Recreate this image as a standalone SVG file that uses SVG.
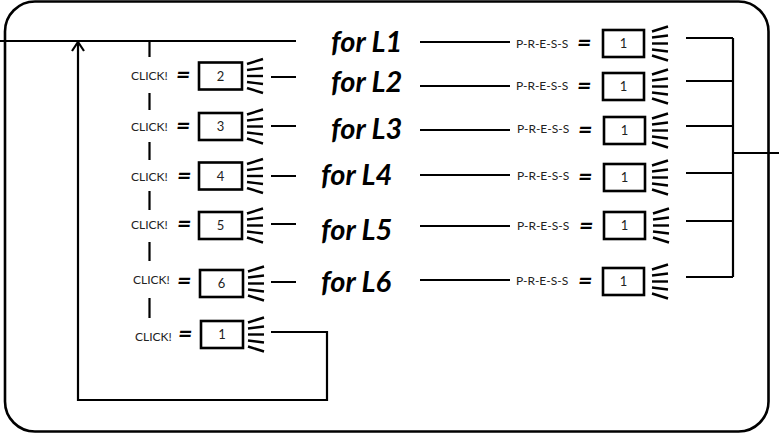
<svg xmlns="http://www.w3.org/2000/svg" width="779" height="438" viewBox="0 0 779 438">
<style>
.ln{stroke:#000;stroke-width:2.2;fill:none}
.bx{stroke:#000;stroke-width:2.6;fill:#fff}
.ray{stroke:#000;stroke-width:2.4;fill:none}
.for{font-family:Lato,"Open Sans",sans-serif;font-weight:bold;font-style:italic;font-size:29px;fill:#000}
.sm{font-family:Lato,"Open Sans",sans-serif;font-size:12px;fill:#222}
.num{font-family:Lato,"Open Sans",sans-serif;font-size:13px;fill:#222;text-anchor:middle}
.eq{font-family:Lato,"Open Sans",sans-serif;font-weight:bold;font-style:italic;font-size:25px;fill:#000}
</style>
<defs>
<g id="rays" class="ray">
<line x1="0" y1="-12" x2="16" y2="-17"/>
<line x1="0" y1="-6" x2="16" y2="-8"/>
<line x1="0" y1="0" x2="16" y2="0"/>
<line x1="0" y1="6" x2="16" y2="8"/>
<line x1="0" y1="12" x2="16" y2="17"/>
</g>
</defs>
<rect id="frame" x="5" y="1.5" width="763.5" height="430" rx="30" ry="30" fill="none" stroke="#000" stroke-width="2.6"/>

<g id="connectors" class="ln">
<path d="M0 41 H296"/>
<path d="M78 42 V400 H327 V332 H271"/>
<path d="M72 51 L78 42 L84 51"/>
<path d="M149.5 41 V57 M149.5 93 V110 M149.5 142 V160 M149.5 191 V210 M149.5 242 V261 M149.5 298 V318"/>
<path d="M271 77 H296 M271 126 H296 M271 176 H296 M271 224 H296 M271 282 H296"/>
<path d="M420 42 H510 M420 86 H510 M420 130 H510 M420 175 H510 M420 226 H510 M420 280 H510"/>
<path d="M686 38 H733 M686 81 H733 M686 126 H733 M686 173 H733 M686 221 H733 M686 277 H733 M733 38 V277 M733 153 H779"/>
</g>

<g id="labels">
<text class="for" x="331" y="52">for L1</text>
<text class="for" x="331" y="92">for L2</text>
<text class="for" x="331" y="139">for L3</text>
<text class="for" x="321" y="185">for L4</text>
<text class="for" x="321" y="240">for L5</text>
<text class="for" x="321" y="292">for L6</text>
</g>

<g id="click2"><text class="sm" x="131" y="79.5">CLICK!</text><text class="eq" x="176" y="83">=</text><rect class="bx" x="199" y="62.5" width="43" height="27"/><text class="num" x="220.5" y="80.5">2</text><use href="#rays" x="247" y="76"/></g>
<g id="click3"><text class="sm" x="131" y="130.5">CLICK!</text><text class="eq" x="176" y="134">=</text><rect class="bx" x="199" y="113" width="43" height="27"/><text class="num" x="220.5" y="131">3</text><use href="#rays" x="247" y="126.5"/></g>
<g id="click4"><text class="sm" x="131" y="180.5">CLICK!</text><text class="eq" x="177" y="184">=</text><rect class="bx" x="199" y="162.5" width="43" height="27"/><text class="num" x="220.5" y="180.5">4</text><use href="#rays" x="247" y="176"/></g>
<g id="click5"><text class="sm" x="131" y="228.5">CLICK!</text><text class="eq" x="177" y="232">=</text><rect class="bx" x="199" y="212" width="43" height="27"/><text class="num" x="220.5" y="230">5</text><use href="#rays" x="247" y="225.5"/></g>
<g id="click6"><text class="sm" x="133" y="283.5">CLICK!</text><text class="eq" x="177" y="289">=</text><rect class="bx" x="200" y="270" width="43" height="27"/><text class="num" x="221.5" y="288">6</text><use href="#rays" x="248" y="283.5"/></g>
<g id="click1"><text class="sm" x="135" y="340.5">CLICK!</text><text class="eq" x="178" y="342">=</text><rect class="bx" x="201" y="321" width="42" height="27"/><text class="num" x="222" y="339">1</text><use href="#rays" x="248" y="334.5"/></g>

<g id="press1"><text class="sm" x="516" y="47.5">P-R-E-S-S</text><text class="eq" x="577" y="51">=</text><rect class="bx" x="603" y="30" width="41" height="27"/><text class="num" x="623.5" y="48">1</text><use href="#rays" x="652" y="43.5"/></g>
<g id="press2"><text class="sm" x="516" y="89.5">P-R-E-S-S</text><text class="eq" x="577" y="94">=</text><rect class="bx" x="603" y="73" width="41" height="27"/><text class="num" x="623.5" y="91">1</text><use href="#rays" x="652" y="86.5"/></g>
<g id="press3"><text class="sm" x="517" y="132.5">P-R-E-S-S</text><text class="eq" x="578" y="138">=</text><rect class="bx" x="604" y="117" width="41" height="27"/><text class="num" x="624.5" y="135">1</text><use href="#rays" x="652" y="130.5"/></g>
<g id="press4"><text class="sm" x="517" y="179.5">P-R-E-S-S</text><text class="eq" x="578" y="185">=</text><rect class="bx" x="604" y="164" width="41" height="27"/><text class="num" x="624.5" y="182">1</text><use href="#rays" x="652" y="177.5"/></g>
<g id="press5"><text class="sm" x="517" y="229.5">P-R-E-S-S</text><text class="eq" x="579" y="234">=</text><rect class="bx" x="604" y="212" width="41" height="27"/><text class="num" x="624.5" y="230">1</text><use href="#rays" x="653" y="225.5"/></g>
<g id="press6"><text class="sm" x="516" y="284.5">P-R-E-S-S</text><text class="eq" x="578" y="289">=</text><rect class="bx" x="603" y="268" width="41" height="27"/><text class="num" x="623.5" y="286">1</text><use href="#rays" x="652" y="281.5"/></g>
</svg>
